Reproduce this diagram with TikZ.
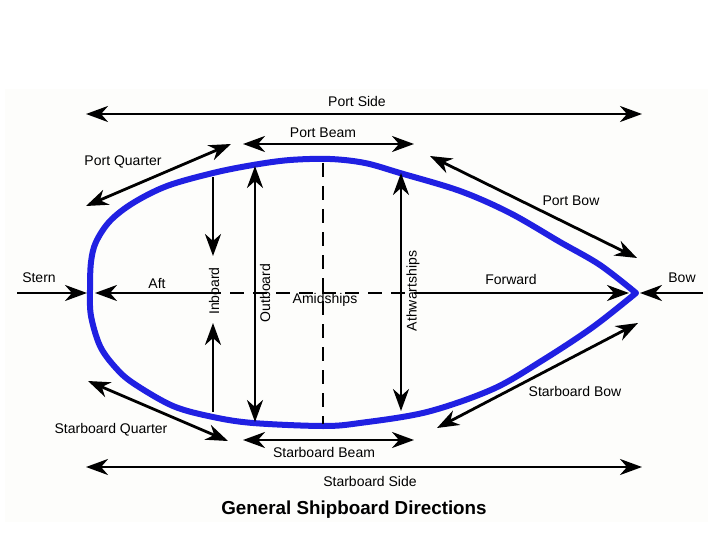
\documentclass[tikz,border=0pt]{standalone}
\usepackage{fontspec}
\setmainfont{Liberation Sans}
\usetikzlibrary{arrows.meta}
\definecolor{hullblue}{RGB}{32,32,226}
\definecolor{bgpaper}{RGB}{253,253,251}
\begin{document}
\begin{tikzpicture}[x=1pt,y=-1pt,
  lbl/.style={font=\fontsize{14}{16}\selectfont, inner sep=0pt},
  ttl/.style={font=\bfseries\fontsize{18.8}{22}\selectfont, inner sep=0pt},
  arr/.style={line width=2.8pt,-{Stealth[length=22pt,width=16pt,inset=7pt]}},
  darr/.style={line width=2.8pt,{Stealth[length=22pt,width=16pt,inset=7pt]}-{Stealth[length=22pt,width=16pt,inset=7pt]}},
  dashln/.style={line width=2.8pt, dash pattern=on 14pt off 9pt},
  hullln/.style={draw=hullblue, line width=6pt, line join=round, line cap=round},
]
\useasboundingbox (0,0) rectangle (720,540);
\fill[bgpaper] (5,89) rectangle (708,522);

% hull
\draw[hullln] plot[smooth, tension=0.55] coordinates {
 (636,293) (600,265) (560,242) (510,213) (460,191) (400,173) (365,163) (330,159)
 (290,160) (253,165) (213,173) (167,186) (133,203) (110,221) (96,242) (91,262)
 (90,290) (91,316) (100,346) (115,367) (133,383) (173,406) (213,417) (253,423)
 (323,426) (360,423) (427,412) (493,389) (543,360) (593,327) (636,293)};

% coordinates
\coordinate (psL) at (86,114);   \coordinate (psR) at (642,114);
\coordinate (pbL) at (243,144);  \coordinate (pbR) at (414,144);
\coordinate (pqA) at (86,206);   \coordinate (pqB) at (231,144);
\coordinate (pwA) at (430,156);  \coordinate (pwB) at (637,258);
\coordinate (ibT0) at (213,177); \coordinate (ibT1) at (213,256);
\coordinate (ibB0) at (213,412); \coordinate (ibB1) at (213,323);
\coordinate (obT) at (255,166);  \coordinate (obB) at (255,422);
\coordinate (atT) at (401,173);  \coordinate (atB) at (401,411);
\coordinate (stA) at (17,293);   \coordinate (stB) at (87,293);
\coordinate (afA) at (207,293);  \coordinate (afB) at (95,293);
\coordinate (fwA) at (422,293);  \coordinate (fwB) at (629,293);
\coordinate (bwA) at (703,293);  \coordinate (bwB) at (640,293);
\coordinate (sqA) at (88,381);   \coordinate (sqB) at (228,441);
\coordinate (sbL) at (243,440);  \coordinate (sbR) at (414,440);
\coordinate (ssL) at (86,467);   \coordinate (ssR) at (642,467);
\coordinate (swA) at (437,428);  \coordinate (swB) at (638,323);
\coordinate (amT) at (323,163);  \coordinate (amB) at (323,424);

% dashed centre lines
\draw[dashln] (afA) -- (fwA);
\draw[dashln] (amT) -- (amB);

% arrows
\draw[darr] (psL) -- (psR);
\draw[darr] (pbL) -- (pbR);
\draw[darr] (pqA) -- (pqB);
\draw[darr] (pwA) -- (pwB);
\draw[arr] (ibT0) -- (ibT1);
\draw[arr] (ibB0) -- (ibB1);
\draw[darr] (obT) -- (obB);
\draw[darr] (atT) -- (atB);
\draw[arr] (stA) -- (stB);
\draw[arr] (afA) -- (afB);
\draw[arr] (fwA) -- (fwB);
\draw[arr] (bwA) -- (bwB);
\draw[darr] (sqA) -- (sqB);
\draw[darr] (sbL) -- (sbR);
\draw[darr] (ssL) -- (ssR);
\draw[darr] (swA) -- (swB);

% labels
\node[lbl] (tPS) at (357,101) {Port Side};
\node[lbl] (tPB) at (323,133) {Port Beam};
\node[lbl] (tPQ) at (123,162) {Port Quarter};
\node[lbl] (tPW) at (571,201) {Port Bow};
\node[lbl] (tST) at (39,278) {Stern};
\node[lbl] (tAF) at (157,283) {Aft};
\node[lbl, rotate=90] (tIB) at (214,291) {Inboard};
\node[lbl, rotate=90] (tOB) at (265,293) {Outboard};
\node[lbl] (tAM) at (325,300) {Amidships};
\node[lbl, rotate=90] (tAT) at (413,291) {Athwartships};
\node[lbl] (tFW) at (511,279) {Forward};
\node[lbl] (tBW) at (682,278) {Bow};
\node[lbl] (tSQ) at (111,430) {Starboard Quarter};
\node[lbl] (tSB) at (324,452) {Starboard Beam};
\node[lbl] (tSW) at (575,391) {Starboard Bow};
\node[lbl] (tSS) at (370,481) {Starboard Side};
\node[ttl] (tT) at (354,510) {General Shipboard Directions};
\end{tikzpicture}
\end{document}
